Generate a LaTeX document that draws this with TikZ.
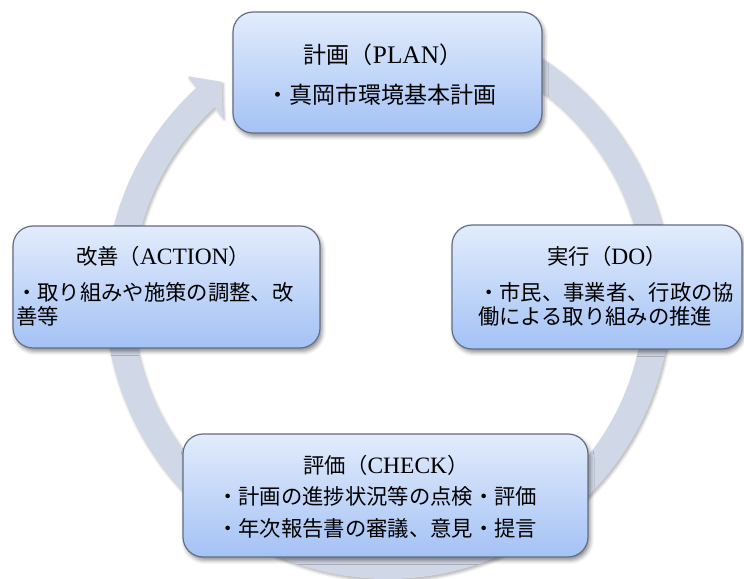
\documentclass[tikz,border=0pt]{standalone}
\usepackage{fontspec}
\setmainfont{Liberation Serif}[Scale=1.1]
\newfontfamily\cjk{Noto Sans CJK JP}
\usetikzlibrary{calc,shadows.blur}
\definecolor{ringc}{RGB}{208,215,230}
\definecolor{boxtop}{RGB}{226,236,252}
\definecolor{boxbot}{RGB}{164,194,245}
\definecolor{boxline}{RGB}{100,110,128}
\newcommand{\J}[1]{{\cjk #1}}
\begin{document}
\begin{tikzpicture}[x=0.75pt,y=0.75pt,
  box/.style={draw=boxline, line width=0.9pt, rounded corners=15pt, top color=boxtop, bottom color=boxbot, inner sep=0pt,
    blur shadow={shadow xshift=1.5pt,shadow yshift=-2.5pt,shadow blur radius=3pt,shadow opacity=45}},
  big/.style={inner sep=0pt, font=\fontsize{17.25}{20}\selectfont},
  small/.style={inner sep=0pt, font=\fontsize{16}{19}\selectfont},
]
\useasboundingbox (0,0) rectangle (744,579);
\coordinate (C) at (388,283);
% cycle arrow
\fill[ringc, blur shadow={shadow xshift=1pt,shadow yshift=-1.5pt,shadow blur radius=2pt,shadow opacity=30}]
  ($(C)+(70:283)$) arc[start angle=70, end angle=-227.5, radius=212.25pt]
  -- ($(C)+(-227.7:297)$) -- ($(C)+(-232.2:271)$) -- ($(C)+(-227.2:243)$)
  -- ($(C)+(-227.5:256)$) arc[start angle=-227.5, end angle=70, radius=192pt] -- cycle;
% boxes
\node[box, minimum width=309*0.75pt, minimum height=121*0.75pt] (plan) at (387.5,506.5) {};
\node[box, minimum width=307*0.75pt, minimum height=122*0.75pt] (action) at (166.5,292) {};
\node[box, minimum width=290*0.75pt, minimum height=124*0.75pt] (do) at (597,292) {};
\node[box, minimum width=405*0.75pt, minimum height=123*0.75pt] (check) at (385.5,83.5) {};
% texts
\node[big, anchor=base] (planT) at (383,515) {\J{計画（}PLAN\J{）}};
\node[big, anchor=base west] (planB) at (266,475) {\J{・真岡市環境基本計画}};
\node[small, anchor=base] (actionT) at (163,314) {\J{改善（}ACTION\J{）}};
\node[small, anchor=base west] (actionB1) at (16,278) {\J{・取り組みや施策の調整、改}};
\node[small, anchor=base west] (actionB2) at (16,254) {\J{善等}};
\node[small, anchor=base] (doT) at (607,314) {\J{実行（}DO\J{）}};
\node[small, anchor=base west] (doB1) at (478,278) {\J{・市民、事業者、行政の協}};
\node[small, anchor=base west] (doB2) at (478,254) {\J{働による取り組みの推進}};
\node[small, anchor=base] (checkT) at (386,105) {\J{評価（}CHECK\J{）}};
\node[small, anchor=base west] (checkB1) at (217,74) {\J{・計画の進捗状況等の点検・評価}};
\node[small, anchor=base west] (checkB2) at (217,42) {\J{・年次報告書の審議、意見・提言}};
\end{tikzpicture}
\end{document}
